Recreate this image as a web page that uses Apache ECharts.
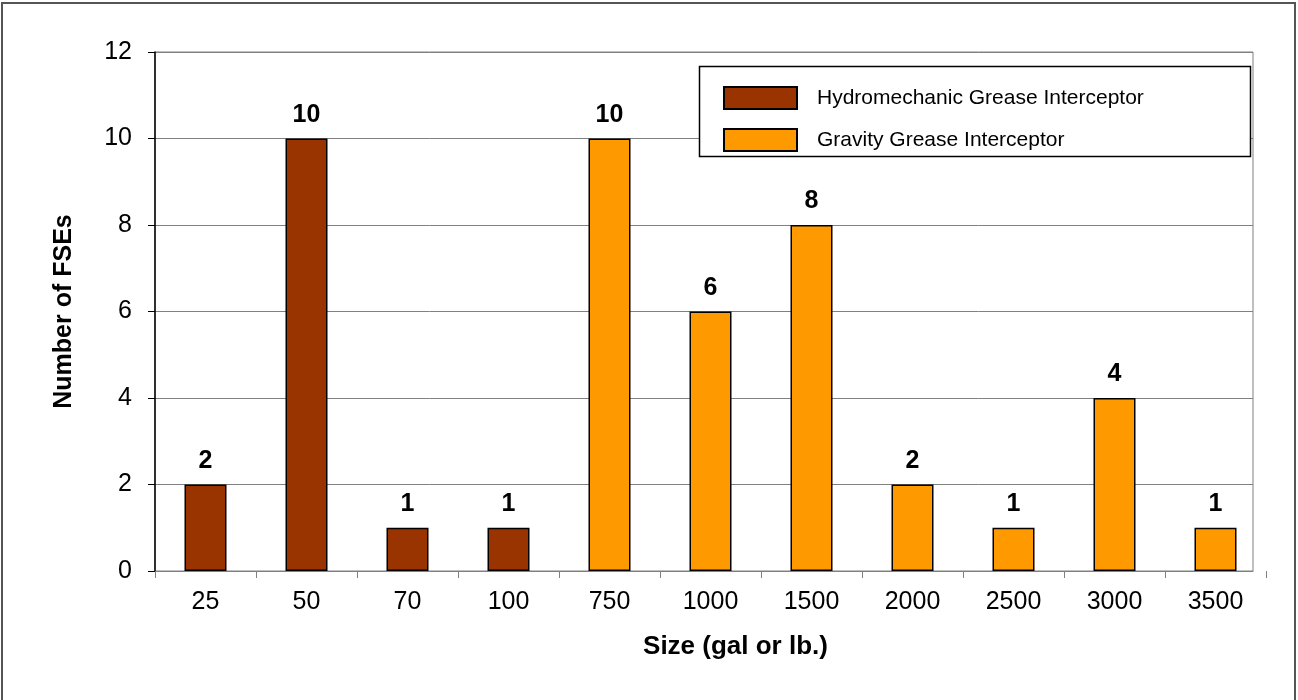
<!DOCTYPE html>
<html>
<head>
<meta charset="utf-8">
<script src="https://cdn.jsdelivr.net/npm/echarts@6/dist/echarts.min.js"></script>
<style>
html,body{margin:0;padding:0;background:#fff;}
#chart{width:1298px;height:700px;}
</style>
</head>
<body>
<div id="chart"></div>
<script>
const categories = ['25','50','70','100','750','1000','1500','2000','2500','3000','3500'];
const hydroValues = [2, 10, 1, 1, '-', '-', '-', '-', '-', '-', '-'];
const gravityValues = ['-', '-', '-', '-', 10, 6, 8, 2, 1, 4, 1];
const seriesNames = ['Hydromechanic Grease Interceptor', 'Gravity Grease Interceptor'];
const yAxisName = 'Number of FSEs';
const xAxisName = 'Size (gal or lb.)';

const FONT = '"Liberation Sans", Arial, sans-serif';
const chart = echarts.init(document.getElementById('chart'), null, {renderer: 'canvas'});
const labelCfg = {
  show: true, position: 'top', distance: 11,
  fontFamily: FONT, fontSize: 25, fontWeight: 'bold', color: '#000'
};
chart.setOption({
  animation: false,
  backgroundColor: '#fff',
  textStyle: {fontFamily: FONT},
  graphic: [
    {type: 'rect', shape: {x: 2, y: 3, width: 1293, height: 720},
     style: {fill: 'none', stroke: '#555', lineWidth: 2}, z: 0},
    {type: 'rect', shape: {x: 699.5, y: 66.5, width: 551, height: 90},
     style: {fill: '#fff', stroke: '#000', lineWidth: 1.5}, z: 5}
  ],
  grid: [
    {left: 155, right: 45, top: 52, bottom: 129, show: true,
     borderColor: '#808080', borderWidth: 1, backgroundColor: 'transparent'},
    {left: 155, right: 32, top: 52, bottom: 129, show: false}
  ],
  legend: {
    orient: 'vertical', left: 718, top: 81, z: 10,
    itemWidth: 73, itemHeight: 22, itemGap: 18,
    icon: 'rect',
    textStyle: {fontFamily: FONT, fontSize: 21, color: '#000', padding: [0,0,0,15]},
    data: seriesNames
  },
  xAxis: [
    {
      gridIndex: 0, type: 'category', data: categories,
      axisLine: {lineStyle: {color: '#808080', width: 1}},
      axisTick: {show: false}, axisLabel: {show: false}
    },
    {
      gridIndex: 1, type: 'category', data: categories,
      name: xAxisName, nameLocation: 'middle', nameGap: 63,
      nameTextStyle: {fontFamily: FONT, fontSize: 26, fontWeight: 'bold', color: '#000',
                      padding: [0, 0, 0, 50]},
      axisLine: {show: false},
      axisTick: {show: true, length: 7, lineStyle: {color: '#808080'}},
      axisLabel: {fontFamily: FONT, fontSize: 25, color: '#000', margin: 19}
    }
  ],
  yAxis: [
    {
      gridIndex: 0, type: 'value', min: 0, max: 12, interval: 2,
      name: yAxisName, nameLocation: 'middle', nameGap: 78, nameRotate: 90,
      nameTextStyle: {fontFamily: FONT, fontSize: 25, fontWeight: 'bold', color: '#000'},
      axisLine: {show: true, lineStyle: {color: '#000', width: 1.5}},
      axisTick: {show: true, length: 7, lineStyle: {color: '#000'}},
      axisLabel: {fontFamily: FONT, fontSize: 25, color: '#000', margin: 23},
      splitLine: {show: true, lineStyle: {color: '#808080', width: 1}}
    },
    {
      gridIndex: 1, type: 'value', min: 0, max: 12, interval: 2,
      axisLine: {show: false}, axisTick: {show: false},
      axisLabel: {show: false}, splitLine: {show: false}
    }
  ],
  series: [
    {name: seriesNames[0], type: 'bar', xAxisIndex: 1, yAxisIndex: 1,
     data: hydroValues, barWidth: 42, barGap: '-100%',
     itemStyle: {color: '#993300', borderColor: '#000', borderWidth: 1.5},
     label: labelCfg},
    {name: seriesNames[1], type: 'bar', xAxisIndex: 1, yAxisIndex: 1,
     data: gravityValues, barWidth: 42,
     itemStyle: {color: '#FF9900', borderColor: '#000', borderWidth: 1.5},
     label: labelCfg}
  ]
});
</script>
</body>
</html>
